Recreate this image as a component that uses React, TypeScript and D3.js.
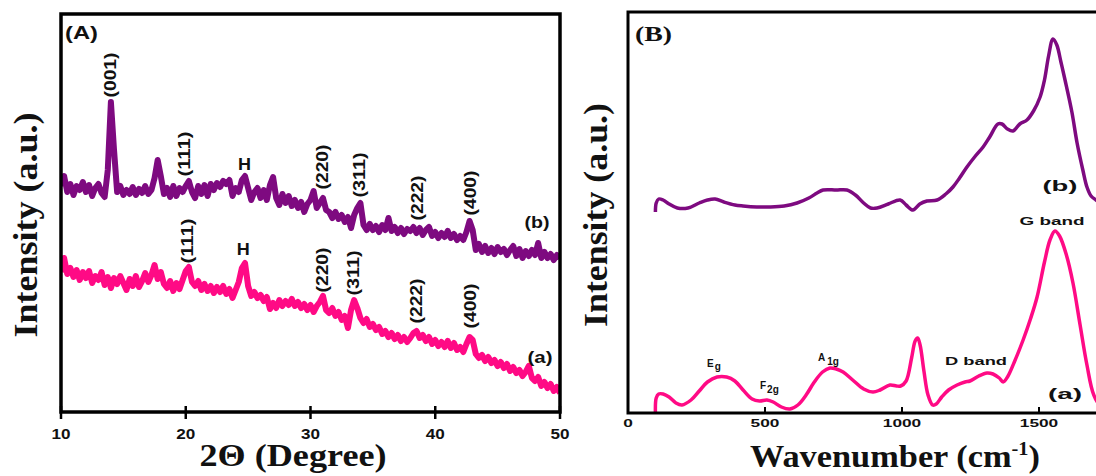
import React from 'react';
import * as d3 from 'd3';

// ---------- Panel A : XRD (2θ grid, step 0.25°) ----------
const xrdTheta: number[] = d3.range(0, 161).map((i) => 10 + i * 0.25);
const xrdB: number[] = [
  226, 236, 220, 228, 217, 226, 222, 230, 220, 227, 216, 224, 228, 219, 215, 242,
  310, 262, 220, 226, 217, 222, 218, 225, 217, 223, 219, 226, 218, 222, 234, 252,
  236, 218, 224, 215, 226, 216, 224, 220, 226, 231, 220, 214, 226, 218, 227, 216,
  228, 222, 229, 225, 231, 228, 232, 216, 224, 220, 232, 236, 224, 212, 220, 224,
  214, 222, 212, 227, 235, 214, 207, 218, 209, 216, 206, 212, 204, 210, 200, 208,
  212, 221, 204, 209, 214, 202, 200, 194, 200, 193, 197, 190, 195, 184, 197, 204,
  209, 187, 182, 188, 182, 186, 180, 187, 182, 194, 181, 185, 179, 184, 178, 183,
  181, 185, 179, 184, 177, 182, 185, 176, 180, 174, 179, 175, 181, 174, 178, 172,
  176, 172, 180, 191, 182, 162, 168, 160, 166, 159, 164, 158, 165, 160, 163, 157,
  162, 166, 156, 163, 154, 161, 156, 162, 157, 169, 154, 160, 154, 158, 152, 157,
  154,
];
const xrdA: number[] = [
  140, 154, 138, 144, 135, 142, 132, 140, 134, 141, 129, 136, 132, 140, 127, 135,
  124, 134, 128, 136, 129, 122, 133, 126, 136, 125, 131, 139, 130, 137, 147, 133,
  140, 128, 124, 131, 121, 129, 123, 132, 141, 145, 130, 126, 131, 122, 128, 121,
  126, 119, 125, 120, 126, 118, 123, 114, 122, 130, 144, 149, 126, 116, 120, 114,
  117, 111, 115, 103, 109, 104, 112, 106, 111, 107, 113, 106, 110, 104, 108, 102,
  107, 100, 106, 110, 116, 102, 99, 104, 96, 100, 92, 96, 84, 102, 112, 104,
  94, 89, 93, 85, 88, 82, 85, 78, 81, 75, 79, 73, 77, 71, 75, 70,
  74, 79, 81, 74, 77, 71, 75, 68, 72, 66, 70, 65, 71, 64, 69, 62,
  65, 60, 68, 75, 72, 58, 54, 57, 51, 55, 49, 52, 46, 50, 44, 48,
  41, 45, 39, 42, 36, 40, 46, 34, 31, 35, 26, 30, 24, 28, 21, 25,
  19,
];
const xrdTicks = [10, 20, 30, 40, 50];
const xrdLabelsB = [
  { t: '(001)', x: 14.0, y: 337 },
  { t: '(111)', x: 19.95, y: 258 },
  { t: '(220)', x: 31.0, y: 245 },
  { t: '(311)', x: 33.95, y: 237 },
  { t: '(222)', x: 38.6, y: 214 },
  { t: '(400)', x: 42.85, y: 219 },
];
const xrdLabelsA = [
  { t: '(111)', x: 20.2, y: 171 },
  { t: '(220)', x: 31.0, y: 142 },
  { t: '(311)', x: 33.5, y: 139 },
  { t: '(222)', x: 38.5, y: 111 },
  { t: '(400)', x: 42.9, y: 106 },
];

// ---------- Panel B : Raman ----------
const ramanAWn = [100, 103, 112, 128, 150, 175, 197, 230, 260, 290, 325, 360, 390, 420, 453, 480, 507, 530, 560, 591, 620, 650, 680, 710, 737, 760, 785, 820, 860, 894, 920, 956, 980, 995, 1015, 1035, 1048, 1057, 1066, 1080, 1095, 1112, 1125, 1145, 1170, 1201, 1230, 1248, 1280, 1310, 1332, 1355, 1369, 1385, 1410, 1442, 1470, 1493, 1520, 1540, 1558, 1575, 1600, 1624, 1650, 1675, 1700, 1730, 1760, 1800];
const ramanAInt = [1, 15, 19, 19, 16, 10, 8, 13, 22, 31, 36, 36, 32, 23, 14, 12, 13, 11, 6, 4, 8, 18, 31, 41, 45, 44, 41, 33, 24, 21, 23, 28, 27, 27, 32, 55, 72, 75, 68, 42, 18, 8, 9, 16, 23, 28, 31, 32, 37, 40, 39, 35, 31, 36, 51, 73, 95, 116, 151, 173, 182, 177, 158, 130, 88, 48, 18, 5, 2, 1];
const ramanBWn = [100, 103, 112, 128, 150, 180, 219, 260, 290, 318, 350, 390, 420, 470, 518, 570, 617, 660, 690, 712, 760, 799, 830, 860, 885, 909, 950, 993, 1015, 1040, 1065, 1091, 1128, 1160, 1186, 1210, 1237, 1265, 1296, 1320, 1350, 1365, 1385, 1405, 1430, 1456, 1480, 1504, 1520, 1535, 1551, 1565, 1580, 1595, 1620, 1639, 1660, 1675, 1690, 1708, 1740, 1780];
const ramanBInt = [201, 210, 214, 213, 209, 205, 205, 210, 213, 214, 211, 208, 207, 206, 206, 207, 210, 215, 220, 223, 223, 223, 218, 210, 205, 205, 209, 213, 208, 203, 209, 212, 213, 219, 226, 235, 246, 256, 266, 276, 289, 289, 284, 282, 289, 293, 302, 316, 333, 357, 374, 368, 351, 333, 301, 270, 243, 226, 217, 213, 207, 205];
const ramanTicks = [0, 500, 1000, 1500, 2000];
const ramanTickLabels = ['0', '500', '1000', '1500'];

const PINK = '#ff0a85';
const PURPLE = '#7e0a80';
const SANS = 'Liberation Sans, Arial, sans-serif';
const SERIF = 'Liberation Serif, Times New Roman, serif';

type TP = {
  x: number; y: number; rot?: number; size: number; w?: number; family?: string;
  anchor?: 'start' | 'middle' | 'end'; children: React.ReactNode;
};
const T = ({ x, y, rot = 0, size, w, family = SANS, anchor = 'middle', children }: TP) => (
  <text
    transform={`translate(${x},${y}) rotate(${rot})`}
    fontSize={size}
    fontFamily={family}
    fontWeight="bold"
    textAnchor={anchor}
    textLength={w}
    lengthAdjust={w ? 'spacingAndGlyphs' : undefined}
    fill="#111"
  >
    {children}
  </text>
);

export default function App() {
  // Panel A scales
  const xA = d3.scaleLinear().domain([10, 50]).range([61, 560]);
  const yA = d3.scaleLinear().domain([0, 398]).range([412, 14]);
  // Panel B scales
  const xB = d3.scaleLinear().domain([0, 2000]).range([628, 1176]);
  const yB = d3.scaleLinear().domain([0, 401]).range([413, 12]);

  const lineA = d3
    .line<number>()
    .x((_, i) => xA(xrdTheta[i]))
    .y((d) => yA(d))
    .curve(d3.curveLinear);

  const ptsRA = ramanAWn.map((w, i) => [w, ramanAInt[i]] as [number, number]);
  const ptsRB = ramanBWn.map((w, i) => [w, ramanBInt[i]] as [number, number]);
  const lineB = d3
    .line<[number, number]>()
    .x((d) => xB(d[0]))
    .y((d) => yB(d[1]))
    .curve(d3.curveCatmullRom.alpha(0.5));

  return (
    <svg
      width={1096}
      height={476}
      style={{ position: 'absolute', left: 0, top: 0, background: '#fff' }}
    >
      <defs>
        <clipPath id="clipA">
          <rect x={61} y={14} width={499} height={398} />
        </clipPath>
        <clipPath id="clipB">
          <rect x={628} y={12} width={548} height={401} />
        </clipPath>
      </defs>

      {/* ================= Panel A ================= */}
      <g clipPath="url(#clipA)">
        <path d={lineA(xrdA) || ''} fill="none" stroke={PINK} strokeWidth={6} strokeLinejoin="round" />
        <path d={lineA(xrdB) || ''} fill="none" stroke={PURPLE} strokeWidth={6} strokeLinejoin="round" />
      </g>
      <rect x={61} y={14} width={499} height={398} fill="none" stroke="#000" strokeWidth={3.5} />
      {xrdTicks.map((t) => (
        <g key={t}>
          <line x1={xA(t)} x2={xA(t)} y1={406} y2={419} stroke="#000" strokeWidth={2.5} />
          <T x={xA(t)} y={439} size={15} w={19}>
            {String(t)}
          </T>
        </g>
      ))}
      <T x={65} y={39} size={19} w={33} anchor="start">
        (A)
      </T>
      <T x={293} y={466} size={32} w={187} family={SERIF}>
        2Θ (Degree)
      </T>
      <T x={37} y={225} rot={-90} size={34} w={225} family={SERIF}>
        Intensity (a.u.)
      </T>
      {xrdLabelsB.map((l) => (
        <T key={'b' + l.t} x={xA(l.x) + 5} y={yA(l.y)} rot={-90} size={16} w={45}>
          {l.t}
        </T>
      ))}
      {xrdLabelsA.map((l) => (
        <T key={'a' + l.t} x={xA(l.x) + 5} y={yA(l.y)} rot={-90} size={16} w={45}>
          {l.t}
        </T>
      ))}
      <T x={xA(24.7)} y={yA(242)} size={16} w={13}>H</T>
      <T x={xA(24.6)} y={yA(157)} size={16} w={13}>H</T>
      <T x={537} y={228} size={17} w={25}>(b)</T>
      <T x={540} y={363} size={17} w={25}>(a)</T>

      {/* ================= Panel B ================= */}
      <g clipPath="url(#clipB)">
        <path d={lineB(ptsRA) || ''} fill="none" stroke={PINK} strokeWidth={3.5} strokeLinejoin="round" />
        <path d={lineB(ptsRB) || ''} fill="none" stroke={PURPLE} strokeWidth={3.5} strokeLinejoin="round" />
      </g>
      <rect x={628} y={12} width={548} height={401} fill="none" stroke="#000" strokeWidth={3} />
      {ramanTicks.map((t) => (
        <line key={t} x1={xB(t)} x2={xB(t)} y1={407} y2={413} stroke="#000" strokeWidth={2} />
      ))}
      {ramanTickLabels.map((s) => (
        <T key={s} x={xB(+s)} y={427} size={11} w={s.length * 9.6}>
          {s}
        </T>
      ))}
      <T x={635} y={41} size={20} w={37} family={SERIF} anchor="start">
        (B)
      </T>
      <T x={607} y={215} rot={-90} size={34} w={224} family={SERIF}>
        Intensity (a.u.)
      </T>
      <text
        x={895}
        y={467}
        fontSize={32}
        fontFamily={SERIF}
        fontWeight="bold"
        textAnchor="middle"
        textLength={290}
        lengthAdjust="spacingAndGlyphs"
        fill="#111"
      >
        Wavenumber (cm
        <tspan fontSize={19} dy={-12}>-1</tspan>
        <tspan dy={12}>)</tspan>
      </text>

      <T x={1060} y={191} size={14} w={35}>(b)</T>
      <T x={1065} y={399} size={14} w={34}>(a)</T>
      <T x={1052} y={225} size={11} w={65}>G band</T>
      <T x={976} y={365} size={11} w={62}>D band</T>
      <text x={818} y={361} fontSize={10} fontFamily={SANS} fontWeight="bold" fill="#111">
        A<tspan fontSize={10} dy={4} dx={2}>1g</tspan>
      </text>
      <text x={707} y={367} fontSize={10} fontFamily={SANS} fontWeight="bold" fill="#111">
        E<tspan fontSize={10} dy={3} dx={1}>g</tspan>
      </text>
      <text x={760} y={389} fontSize={10} fontFamily={SANS} fontWeight="bold" fill="#111">
        F<tspan fontSize={10} dy={4} dx={1}>2g</tspan>
      </text>
    </svg>
  );
}
